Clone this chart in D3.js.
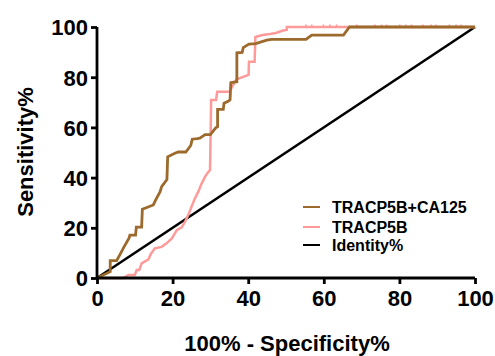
<!DOCTYPE html>
<html>
<head>
<meta charset="utf-8">
<script src="https://cdn.jsdelivr.net/npm/d3@7"></script>
<style>
  html, body { margin: 0; padding: 0; background: #fff; }
  svg { display: block; }
  text { font-family: "Liberation Sans", Arial, sans-serif; font-weight: bold; fill: #000; }
</style>
</head>
<body>
<svg id="chart" width="495" height="356"></svg>
<script>
// ---- Data ----
const xTicks = [0, 20, 40, 60, 80, 100];
const yTicks = [0, 20, 40, 60, 80, 100];

const comboX = [0, 3.5, 3.5, 5.2, 6.7, 7.0, 8.5, 8.7, 10.2, 10.4, 11.8, 12.0, 14.9, 15.5, 16.7, 17.1, 18.5, 18.7, 20.6, 21.5, 23.5, 24.8, 25.2, 26.5, 27.2, 28.6, 30.0, 31.4, 31.9, 31.9, 33.4, 33.6, 34.7, 35.2, 35.4, 37.0, 37.0, 38.4, 38.7, 40.2, 42.0, 44.9, 46.2, 55.3, 56.8, 65.2, 66.8, 100];
const comboY = [0, 2.5, 6.9, 6.9, 11.1, 12.0, 16.0, 17.1, 17.1, 20.3, 20.3, 27.4, 29.1, 31.0, 34.4, 36.4, 39.2, 48.3, 49.7, 50.2, 50.2, 52.8, 55.3, 55.5, 55.7, 57.1, 57.1, 59.8, 60.3, 67.2, 67.2, 69.6, 70.4, 71.0, 77.8, 78.2, 89.7, 89.9, 91.8, 93.2, 93.4, 94.8, 95.1, 95.1, 96.8, 96.8, 100, 100];

const tracpX = [0, 7.0, 8.3, 10.0, 10.5, 11.2, 11.8, 13.6, 14.2, 15.3, 17.1, 18.4, 19.8, 20.6, 21.1, 22.4, 23.3, 24.4, 25.0, 25.9, 26.8, 27.7, 28.6, 29.2, 29.9, 30.2, 31.5, 31.8, 35.0, 36.3, 36.9, 40.1, 40.2, 41.7, 41.9, 43.8, 45.8, 47.3, 49.2, 50.2, 50.2, 100];
const tracpY = [0, 0, 1.2, 1.2, 3.2, 3.2, 5.8, 7.4, 9.5, 11.8, 12.4, 13.8, 15.8, 17.8, 19.1, 20.2, 22.4, 26.0, 28.4, 31.7, 34.4, 37.7, 40.4, 41.7, 43.0, 70.9, 70.9, 74.2, 74.2, 77.6, 79.2, 80.9, 86.2, 86.2, 96.0, 96.8, 97.2, 97.6, 98.6, 98.8, 100, 100];

// small marks along the 100% line
const tieMarksX = [55.3, 56.8, 59.9, 61.6, 63.4, 68.7, 73.5, 75.3, 76.6, 80.1, 81.7, 83.2, 86.2, 88.4, 89.7, 93.2, 95.0, 96.3];

const identityX = [0, 100];
const identityY = [0, 100];

const seriesNames = ["TRACP5B+CA125", "TRACP5B", "Identity%"];
const seriesColors = ["#9b6a2c", "#ff9a9a", "#000000"];

const xTitle = "100% - Specificity%";
const yTitle = "Sensitivity%";

// ---- Chart ----
const svg = d3.select("#chart");
const x = d3.scaleLinear().domain([0, 100]).range([97, 475]);
const y = d3.scaleLinear().domain([0, 100]).range([278, 27]);

const line = d3.line().x(d => x(d[0])).y(d => y(d[1]));
const zip = (a, b) => a.map((v, i) => [v, b[i]]);

// identity line
svg.append("path")
  .attr("d", line(zip(identityX, identityY)))
  .attr("fill", "none").attr("stroke", seriesColors[2]).attr("stroke-width", 2.6);

// small tie marks
svg.append("g").selectAll("line").data(tieMarksX).join("line")
  .attr("x1", d => x(d)).attr("x2", d => x(d))
  .attr("y1", y(100) - 2.5).attr("y2", y(100) + 1)
  .attr("stroke", seriesColors[1]).attr("stroke-width", 1.6);

// TRACP5B
svg.append("path")
  .attr("d", line(zip(tracpX, tracpY)))
  .attr("fill", "none").attr("stroke", seriesColors[1]).attr("stroke-width", 2.5)
  .attr("stroke-linejoin", "miter");

// TRACP5B+CA125
svg.append("path")
  .attr("d", line(zip(comboX, comboY)))
  .attr("fill", "none").attr("stroke", seriesColors[0]).attr("stroke-width", 2.8)
  .attr("stroke-linejoin", "miter");

// axes
const xAxis = d3.axisBottom(x).tickValues(xTicks).tickSize(6).tickPadding(6);
const yAxis = d3.axisLeft(y).tickValues(yTicks).tickSize(6).tickPadding(3);

const gx = svg.append("g").attr("transform", `translate(0,${y(0)})`).call(xAxis);
const gy = svg.append("g").attr("transform", `translate(${x(0)},0)`).call(yAxis);

[gx, gy].forEach(g => {
  g.select(".domain").attr("stroke", "#000").attr("stroke-width", 2.8);
  g.selectAll(".tick line").attr("stroke", "#000").attr("stroke-width", 2.8);
  g.selectAll(".tick text")
    .attr("font-family", "Liberation Sans, Arial, sans-serif")
    .attr("font-weight", "bold").attr("font-size", 22).attr("fill", "#000");
});
// remove the domain's outer ticks (use tick lines instead)
gx.select(".domain").attr("d", `M${x(0)},0H${x(100)}`);
gy.select(".domain").attr("d", `M0,${y(0)}V${y(100)}`);
gx.selectAll(".tick text").attr("dy", "0.71em");
gy.selectAll(".tick text").attr("dy", "0.36em");

// axis titles
svg.append("text")
  .attr("x", 287).attr("y", 351)
  .attr("text-anchor", "middle").attr("font-size", 22)
  .text(xTitle);

svg.append("text")
  .attr("transform", "translate(33,152) rotate(-90)")
  .attr("text-anchor", "middle").attr("font-size", 22)
  .text(yTitle);

// legend
const legendY = [207, 227, 245];
const lg = svg.append("g");
seriesNames.forEach((name, i) => {
  lg.append("line")
    .attr("x1", 303).attr("x2", 320)
    .attr("y1", legendY[i]).attr("y2", legendY[i])
    .attr("stroke", seriesColors[i]).attr("stroke-width", 2);
  lg.append("text")
    .attr("x", 332).attr("y", legendY[i]).attr("dy", "0.36em")
    .attr("font-size", 16)
    .text(name);
});
</script>
</body>
</html>
